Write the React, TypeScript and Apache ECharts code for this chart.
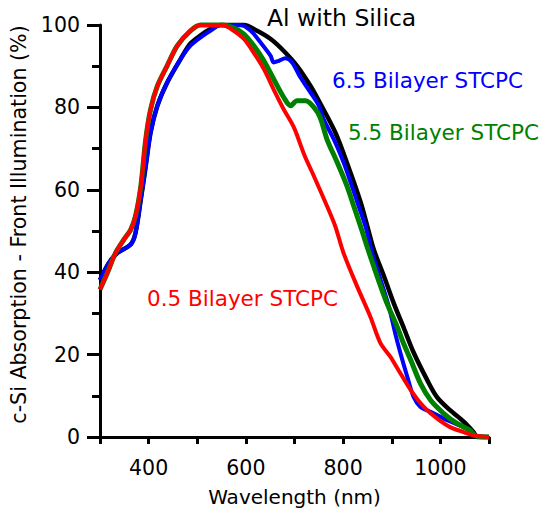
import React, { useEffect, useRef } from "react";
import * as echarts from "echarts";

// Wavelength (nm) and absorption (%)
const wlAl = [300, 318, 336, 363, 373, 384, 394, 404, 418, 438, 466, 486, 507, 527, 548, 596, 623, 651, 678, 705, 733, 750, 784, 808, 836, 849, 863, 884, 904, 925, 945, 973, 993, 1020, 1048, 1068, 1076, 1100];
const absAl = [38.1, 42.2, 44.7, 46.7, 49.5, 57.7, 65.7, 73.9, 80.4, 86, 91.8, 95.5, 97.5, 99, 100, 100, 98.6, 96.6, 93.7, 90.1, 85.2, 81.6, 73.9, 66.5, 57, 51.5, 45.5, 39, 32.5, 26.4, 20.5, 13.8, 9.7, 6.5, 3.7, 1.2, 0, 0];

const wl65 = [300, 318, 336, 363, 373, 384, 394, 404, 418, 438, 466, 486, 507, 527, 548, 589, 610, 630, 651, 657, 668, 681, 695, 712, 733, 750, 760, 781, 801, 818, 832, 846, 860, 877, 894, 907, 918, 932, 945, 959, 980, 1014, 1048, 1065, 1078, 1100];
const abs65 = [38.1, 42.2, 44.7, 46.7, 49.5, 57.7, 65.7, 73.9, 80.4, 86, 91.8, 95, 97, 98.6, 100, 100, 98.6, 95.8, 92.5, 90.9, 91.3, 91.9, 90.9, 87.3, 83.6, 80.4, 77.1, 72.2, 66.6, 60.9, 56, 51.1, 44.6, 38.2, 31.7, 25.2, 20.3, 14.6, 9.7, 7.3, 6.1, 4.1, 2.4, 1.2, 0, 0];

const wl55 = [300, 315, 332, 349, 363, 373, 384, 394, 404, 418, 438, 459, 486, 507, 551, 575, 596, 616, 637, 657, 678, 692, 705, 723, 740, 753, 767, 788, 808, 822, 836, 849, 870, 890, 911, 925, 939, 959, 980, 1007, 1034, 1061, 1072, 1100];
const abs55 = [35.8, 39.8, 44.7, 47.9, 50.3, 53.6, 60.9, 72.2, 79.5, 85.2, 90.1, 95, 98.6, 100, 100, 99.3, 97.8, 95, 91.3, 86.9, 82.4, 80.4, 81.6, 81.6, 80, 77.5, 72.2, 66.6, 60.9, 56, 51.1, 46.3, 39, 32.5, 26.8, 22.5, 18.7, 13, 8.9, 5.7, 3.3, 1.6, 0.3, 0];

const wl05 = [300, 315, 332, 349, 363, 373, 384, 394, 404, 418, 438, 459, 486, 507, 551, 575, 596, 616, 637, 657, 678, 699, 720, 740, 767, 784, 801, 829, 856, 877, 897, 918, 939, 966, 993, 1020, 1048, 1068, 1100];
const abs05 = [35.8, 39.8, 44.7, 47.9, 50.3, 53.6, 60.9, 72.2, 79.5, 85.2, 90.1, 95, 98.6, 100, 100, 98.6, 96.6, 93.3, 89.3, 84.4, 79.5, 75.1, 68.5, 63.3, 56, 51.1, 44.6, 36.5, 29.2, 22.7, 19.5, 15.4, 11.4, 7.3, 4.5, 2.4, 1.2, 0.4, 0];

const xTicks = [400, 600, 800, 1000];
const labels = [
  { text: "Al with Silica", color: "#000000" },
  { text: "6.5 Bilayer STCPC", color: "#0000ff" },
  { text: "5.5 Bilayer STCPC", color: "#008000" },
  { text: "0.5 Bilayer STCPC", color: "#ff0000" },
];

const FONT = "DejaVu Sans";
const zip = (a: number[], b: number[]) => a.map((v, i) => [v, b[i]]);

export default function App() {
  const ref = useRef<HTMLDivElement>(null);
  useEffect(() => {
    if (!ref.current) return;
    const chart = echarts.init(ref.current, undefined, { renderer: "svg" });
    const mk = (name: string, wl: number[], ab: number[], color: string, width: number) => ({
      name,
      type: "line",
      data: zip(wl, ab),
      showSymbol: false,
      symbol: "none",
      clip: false,
      smooth: 0.3,
      lineStyle: { color, width },
      itemStyle: { color },
    });
    const labelPos = [
      { left: 267, mid: 18, size: 23.5 },
      { left: 332, mid: 80, size: 21.5 },
      { left: 348, mid: 132, size: 21.5 },
      { left: 147, mid: 298, size: 21.5 },
    ];
    chart.setOption({
      animation: false,
      grid: { left: 100, right: 62, top: 25, bottom: 75 },
      xAxis: {
        type: "value",
        min: 300,
        max: 1100,
        interval: 100,
        name: "Wavelength (nm)",
        nameLocation: "middle",
        nameGap: 50,
        nameTextStyle: { fontFamily: FONT, fontSize: 20, color: "#000" },
        axisLine: { lineStyle: { color: "#000", width: 3 } },
        axisTick: { length: 7, lineStyle: { color: "#000", width: 3 } },
        axisLabel: {
          margin: 20,
          fontFamily: FONT,
          fontSize: 20.5,
          color: "#000",
          formatter: (v: number) => (xTicks.includes(v) ? String(v) : ""),
        },
        splitLine: { show: false },
      },
      yAxis: {
        type: "value",
        min: 0,
        max: 100,
        interval: 20,
        name: "c-Si Absorption - Front Illumination (%)",
        nameLocation: "middle",
        nameGap: 64,
        nameTextStyle: { fontFamily: FONT, fontSize: 20.6, color: "#000", padding: [0, 0, 0, 13] },
        axisLine: { show: true, lineStyle: { color: "#000", width: 3 } },
        axisTick: { show: true, length: 13, lineStyle: { color: "#000", width: 3 } },
        minorTick: { show: true, splitNumber: 2, length: 8, lineStyle: { color: "#000", width: 3 } },
        axisLabel: { margin: 20, fontFamily: FONT, fontSize: 20.5, color: "#000" },
        splitLine: { show: false },
        minorSplitLine: { show: false },
      },
      series: [
        mk("Al with Silica", wlAl, absAl, "#000000", 4.5),
        mk("6.5 Bilayer STCPC", wl65, abs65, "#0000ff", 4),
        mk("5.5 Bilayer STCPC", wl55, abs55, "#008000", 5),
        mk("0.5 Bilayer STCPC", wl05, abs05, "#ff0000", 4),
      ],
      graphic: labels.map((l, i) => ({
        type: "text",
        left: labelPos[i].left,
        top: labelPos[i].mid - labelPos[i].size * 0.5,
        style: { text: l.text, fill: l.color, font: `${labelPos[i].size}px "${FONT}"` },
      })),
    });
    return () => chart.dispose();
  }, []);
  return <div ref={ref} style={{ position: "absolute", left: 0, top: 0, width: 551, height: 512 }} />;
}
